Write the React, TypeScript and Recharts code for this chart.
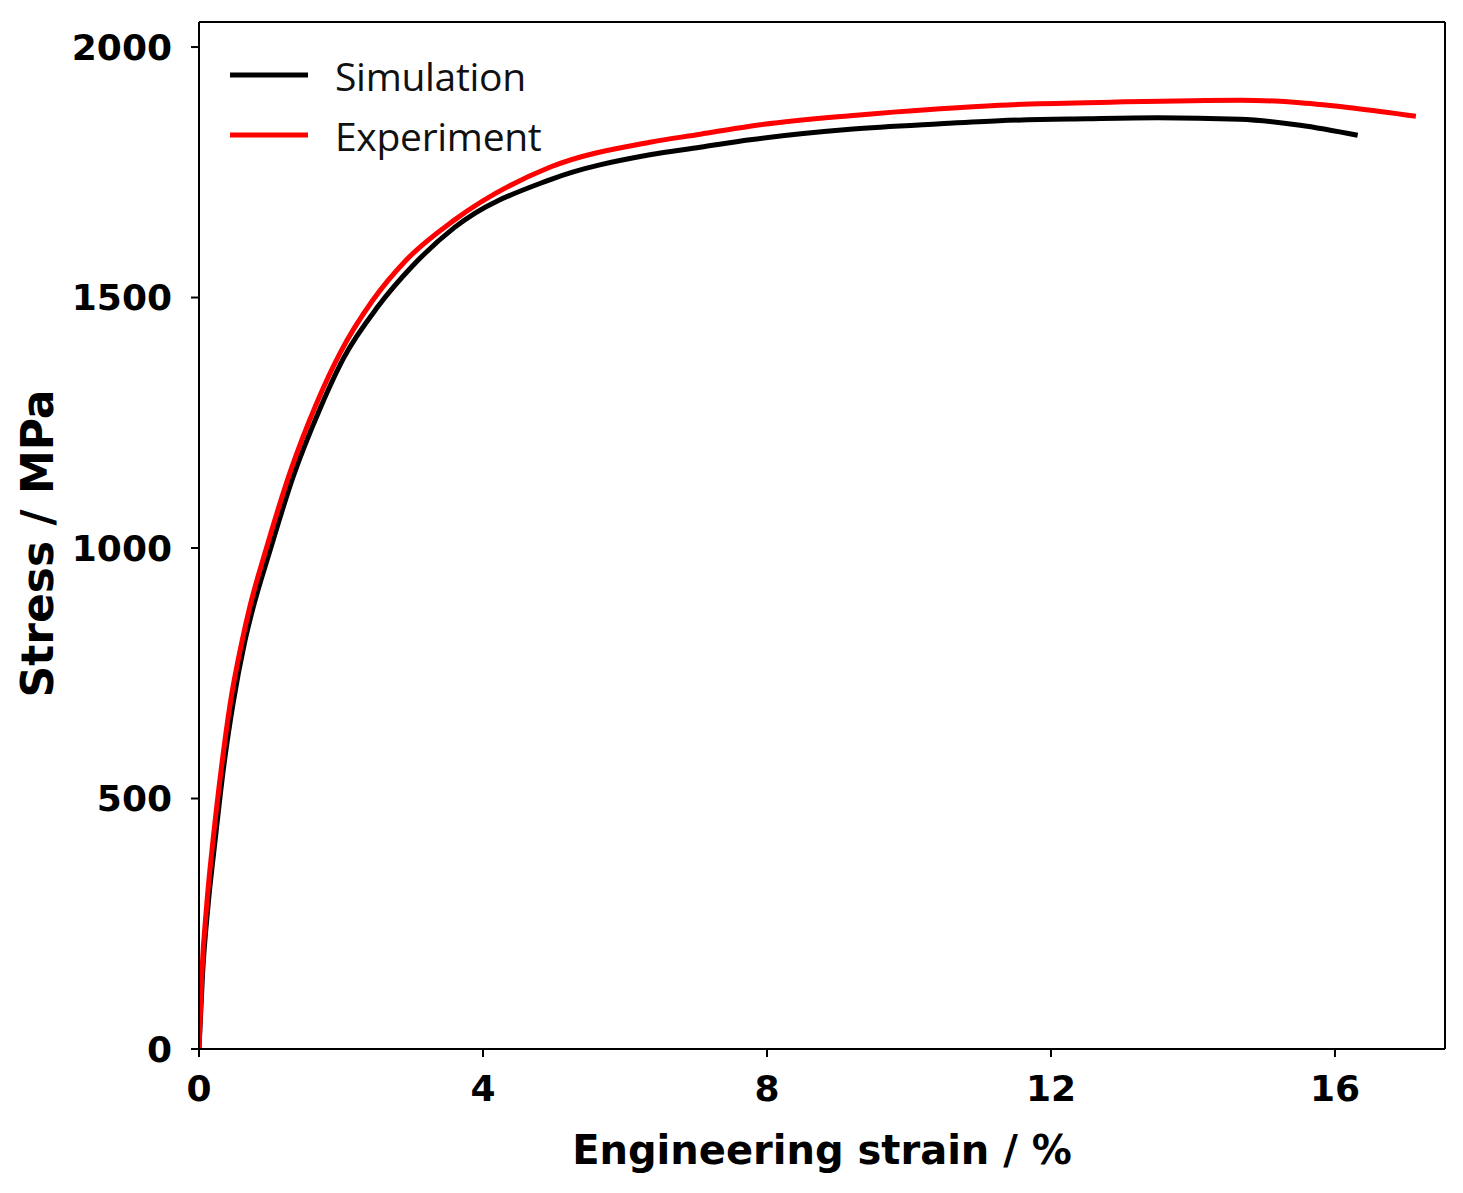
import React from 'react';
import { LineChart, Line, XAxis, YAxis, ReferenceLine } from 'recharts';

// strain in %, stress in MPa
const simStrain = [0, 0.05, 0.13, 0.23, 0.34, 0.48, 0.64, 0.76, 1.0, 1.32, 1.71, 2.04, 2.52, 3.0, 3.6, 4.94, 6.35, 7.06, 7.76, 9.17, 10.44, 11.27, 12.5, 13.5, 14.66, 15.51, 16.32];
const simStress = [0, 150, 290, 420, 555, 690, 810, 880, 995, 1140, 1280, 1380, 1482, 1562, 1640, 1735, 1785, 1800, 1815, 1836, 1847, 1853, 1857, 1859, 1856, 1844, 1824];

const expStrain = [0, 0.04, 0.11, 0.2, 0.31, 0.44, 0.6, 0.72, 0.95, 1.28, 1.66, 1.99, 2.45, 2.92, 3.6, 4.94, 6.35, 7.06, 7.76, 9.17, 10.44, 11.27, 12.84, 14.66, 15.51, 16.28, 17.14];
const expStress = [0, 150, 290, 420, 555, 690, 810, 885, 1000, 1150, 1290, 1390, 1495, 1575, 1655, 1760, 1810, 1826, 1842, 1863, 1877, 1884, 1890, 1894, 1889, 1878, 1862];

const xTicks = [0, 4, 8, 12, 16];
const yTicks = [0, 500, 1000, 1500, 2000];
const X_MAX = 17.55;
const Y_MAX = 2050;

const series = [
  { name: 'Simulation', color: '#000000' },
  { name: 'Experiment', color: '#ff0000' },
];

const simData = simStrain.map((s, i) => ({ strain: s, stress: simStress[i] }));
const expData = expStrain.map((s, i) => ({ strain: s, stress: expStress[i] }));

const tickFont = { fontFamily: 'DejaVu Sans', fontWeight: 'bold', fontSize: 36, fill: '#000' };

const LegendBox: React.FC = () => (
  <div style={{ position: 'absolute', left: 221, top: 44, display: 'flex', flexDirection: 'column', gap: 14 }}>
    {series.map((p) => (
      <div key={p.name} style={{ display: 'flex', alignItems: 'center', height: 46 }}>
        <svg width={80} height={10} style={{ marginRight: 26 }}>
          <line x1={1} x2={79} y1={5} y2={5} stroke={p.color} strokeWidth={5} />
        </svg>
        <span style={{ fontFamily: 'Open Sans', fontSize: 39, color: '#111', letterSpacing: -0.3 }}>{p.name}</span>
      </div>
    ))}
  </div>
);

const YLabel: React.FC<any> = ({ viewBox }) => {
  const cx = viewBox.x + 29;
  const cy = viewBox.y + viewBox.height / 2 + 8;
  return (
    <text x={cx} y={cy} transform={`rotate(-90, ${cx}, ${cy})`} textAnchor="middle" dominantBaseline="central"
      style={{ fontFamily: 'DejaVu Sans', fontWeight: 'bold', fontSize: 44 }} fill="#000">
      Stress / MPa
    </text>
  );
};

const XLabel: React.FC<any> = ({ viewBox }) => {
  const cx = viewBox.x + viewBox.width / 2;
  const cy = viewBox.y + 101;
  return (
    <text x={cx} y={cy} textAnchor="middle" dominantBaseline="central"
      style={{ fontFamily: 'DejaVu Sans', fontWeight: 'bold', fontSize: 40 }} fill="#000">
      Engineering strain / %
    </text>
  );
};

const App: React.FC = () => {
  return (
    <div style={{ position: 'relative', width: 1455, height: 1180, background: '#fff' }}>
      <LineChart width={1455} height={1180} margin={{ top: 14, right: 18, left: 0, bottom: 0 }}>
        <XAxis
          type="number"
          dataKey="strain"
          domain={[0, X_MAX]}
          ticks={xTicks}
          allowDataOverflow
          height={139}
          tick={tickFont}
          tickSize={8}
          tickMargin={18}
          axisLine={{ stroke: '#000', strokeWidth: 2 }}
          tickLine={{ stroke: '#000', strokeWidth: 2 }}
          label={<XLabel />}
        />
        <YAxis
          type="number"
          dataKey="stress"
          domain={[0, Y_MAX]}
          ticks={yTicks}
          allowDataOverflow
          width={191}
          tick={tickFont}
          tickSize={8}
          tickMargin={19}
          axisLine={{ stroke: '#000', strokeWidth: 2 }}
          tickLine={{ stroke: '#000', strokeWidth: 2 }}
          label={<YLabel />}
        />
        <ReferenceLine y={Y_MAX} stroke="#000" strokeWidth={2} />
        <ReferenceLine x={X_MAX} stroke="#000" strokeWidth={2} />
        <Line data={simData} dataKey="stress" name="Simulation" type="monotone" stroke="#000" strokeWidth={5} dot={false} isAnimationActive={false} />
        <Line data={expData} dataKey="stress" name="Experiment" type="monotone" stroke="#ff0000" strokeWidth={5} dot={false} isAnimationActive={false} />
      </LineChart>
      <LegendBox />
    </div>
  );
};

export default App;
